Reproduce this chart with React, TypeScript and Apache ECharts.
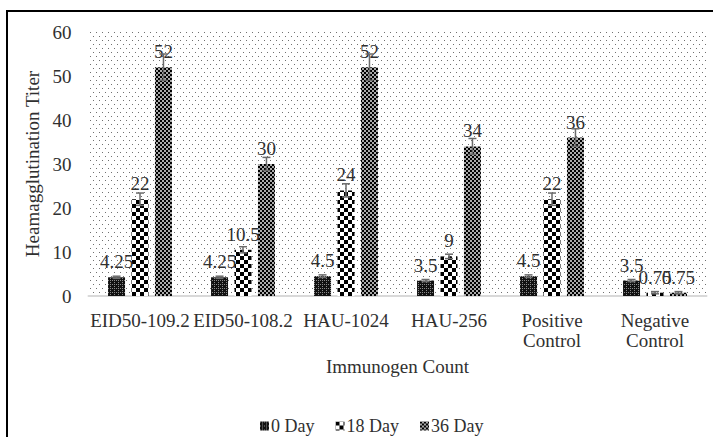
import React, { useEffect, useRef } from "react";
import * as echarts from "echarts";

const categories = ["EID50-109.2", "EID50-108.2", "HAU-1024", "HAU-256", "Positive\nControl", "Negative\nControl"];
const seriesNames = ["0 Day", "18 Day", "36 Day"];
const day0 = [4.25, 4.25, 4.5, 3.5, 4.5, 3.5];
const day18 = [22, 10.5, 24, 9, 22, 0.75];
const day36 = [52, 30, 52, 34, 36, 0.75];
const err0 = [0.25, 0.25, 0.3, 0.25, 0.3, 0.25];
const err18 = [1.4, 0.7, 1.5, 0.5, 1.4, 0.25];
const err36 = [3, 1.5, 3, 1.8, 2, 0.25];
const yTicks = { min: 0, max: 60, interval: 10 };

const FONT = "'Liberation Serif', 'Times New Roman', serif";
const FS = 19;
const TEXT = "#303030";
const BAR_W = 17;
const GAP = 0.38;

function makePattern(w: number, h: number, draw: (ctx: CanvasRenderingContext2D) => void) {
  const c = document.createElement("canvas");
  c.width = w;
  c.height = h;
  const ctx = c.getContext("2d")!;
  draw(ctx);
  return { image: c, repeat: "repeat", imageWidth: w, imageHeight: h } as any;
}

export default function App() {
  const ref = useRef<HTMLDivElement>(null);
  useEffect(() => {
    if (!ref.current) return;
    const chart = echarts.init(ref.current, undefined, { renderer: "svg" });

    const dots = makePattern(6, 8, (ctx) => {
      ctx.fillStyle = "#ffffff";
      ctx.fillRect(0, 0, 6, 8);
      ctx.fillStyle = "#707070";
      ctx.fillRect(0, 0, 1, 1);
      ctx.fillRect(3, 4, 1, 1);
    });
    const p0 = makePattern(4, 4, (ctx) => {
      ctx.fillStyle = "#111111";
      ctx.fillRect(0, 0, 4, 4);
      ctx.fillStyle = "#8a8a8a";
      ctx.fillRect(0, 0, 1, 1);
      ctx.fillRect(2, 2, 1, 1);
      ctx.fillRect(2, 0, 1, 1);
    });
    const p18 = makePattern(8, 8, (ctx) => {
      ctx.fillStyle = "#ffffff";
      ctx.fillRect(0, 0, 8, 8);
      ctx.fillStyle = "#000000";
      ctx.fillRect(0, 0, 4, 4);
      ctx.fillRect(4, 4, 4, 4);
    });
    const p36 = makePattern(4, 4, (ctx) => {
      ctx.fillStyle = "#aaaaaa";
      ctx.fillRect(0, 0, 4, 4);
      ctx.fillStyle = "#000000";
      ctx.fillRect(0, 0, 2, 2);
      ctx.fillRect(2, 2, 2, 2);
    });

    const values = [day0, day18, day36];
    const errs = [err0, err18, err36];
    const patterns = [p0, p18, p36];

    const errData: number[][] = [];
    values.forEach((vals, s) => vals.forEach((v, i) => errData.push([i, v, errs[s][i], s])));

    const barSeries = seriesNames.map((name, s) => ({
      name,
      type: "bar",
      data: values[s],
      barWidth: BAR_W,
      barGap: GAP * 100 + "%",
      itemStyle: { color: patterns[s] },
      label: {
        show: true,
        position: "top",
        distance: 6,
        fontFamily: FONT,
        fontSize: FS,
        color: TEXT,
      },
      z: 2,
    }));

    chart.setOption({
      animation: false,
      textStyle: { fontFamily: FONT },
      graphic: [
        {
          type: "rect",
          shape: { x: 7, y: 11, width: 720, height: 440 },
          style: { fill: "none", stroke: "#000", lineWidth: 2 },
          z: 100,
        },
      ],
      grid: {
        left: 88.5,
        right: 6.5,
        top: 32,
        bottom: 141,
        show: true,
        backgroundColor: dots,
        borderWidth: 0,
      },
      legend: {
        data: seriesNames,
        left: 255,
        top: 412,
        icon: "rect",
        itemWidth: 9,
        itemHeight: 9,
        itemGap: 21,
        textStyle: { fontFamily: FONT, fontSize: 18, color: TEXT, padding: [0, 0, 0, -3] },
      },
      xAxis: {
        type: "category",
        data: categories,
        name: "Immunogen Count",
        nameLocation: "middle",
        nameGap: 61,
        nameTextStyle: { fontFamily: FONT, fontSize: FS, color: TEXT },
        axisLine: { lineStyle: { color: "#d9d9d9", width: 2 } },
        axisTick: { show: false },
        axisLabel: { fontFamily: FONT, fontSize: FS, color: TEXT, margin: 14, lineHeight: 20, interval: 0 },
      },
      yAxis: {
        type: "value",
        min: yTicks.min,
        max: yTicks.max,
        interval: yTicks.interval,
        name: "Heamagglutination Titer",
        nameLocation: "middle",
        nameGap: 39,
        nameTextStyle: { fontFamily: FONT, fontSize: FS, color: TEXT },
        axisLine: { show: false },
        axisTick: { show: false },
        splitLine: { show: false },
        axisLabel: { fontFamily: FONT, fontSize: FS, color: TEXT, margin: 17 },
      },
      series: [
        ...barSeries,
        {
          type: "custom",
          name: "err",
          data: errData,
          encode: { x: 0, y: 1 },
          z: 3,
          renderItem: (params: any, api: any) => {
            const idx = api.value(0);
            const v = api.value(1);
            const e = api.value(2);
            const s = api.value(3);
            const base = api.coord([idx, v]);
            const top = api.coord([idx, v + e]);
            const bot = api.coord([idx, Math.max(0, v - e)]);
            const total = 3 * BAR_W + 2 * GAP * BAR_W;
            const x = base[0] - total / 2 + BAR_W / 2 + s * (BAR_W + GAP * BAR_W);
            const style = { stroke: "#6b6b6b", lineWidth: 1.5 };
            return {
              type: "group",
              children: [
                { type: "line", shape: { x1: x, y1: top[1], x2: x, y2: bot[1] }, style },
                { type: "line", shape: { x1: x - 4, y1: top[1], x2: x + 4, y2: top[1] }, style },
                { type: "line", shape: { x1: x - 4, y1: bot[1], x2: x + 4, y2: bot[1] }, style },
              ],
            };
          },
        },
      ],
    });
    return () => chart.dispose();
  }, []);
  return (
    <div
      ref={ref}
      style={{ position: "fixed", left: 0, top: 0, width: 713, height: 437, background: "#fff" }}
    />
  );
}
